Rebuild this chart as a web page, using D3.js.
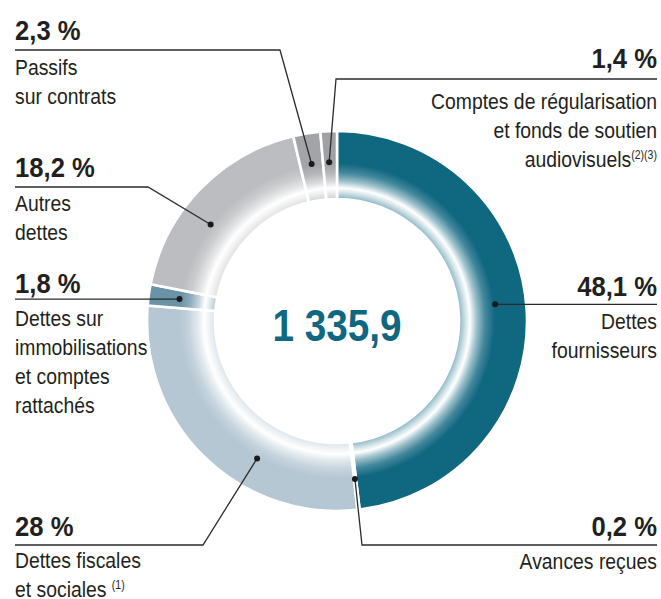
<!DOCTYPE html>
<html>
<head>
<meta charset="utf-8">
<script src="https://cdn.jsdelivr.net/npm/d3@7"></script>
<style>
  html, body { margin: 0; padding: 0; background: #fff; }
  svg { display: block; }
  text { font-family: "Liberation Sans", Arial, "Helvetica Neue", sans-serif; fill: #231f20; }
</style>
</head>
<body>
<svg id="chart" width="661" height="599"></svg>
<script>
// Répartition des dettes (en %), total en millions d'euros
const categories = [
  "Dettes fournisseurs",
  "Avances reçues",
  "Dettes fiscales et sociales",
  "Dettes sur immobilisations et comptes rattachés",
  "Autres dettes",
  "Passifs sur contrats",
  "Comptes de régularisation et fonds de soutien audiovisuels"
];
const shares = [48.1, 0.2, 28, 1.8, 18.2, 2.3, 1.4];
const shareLabels = ["48,1 %", "0,2 %", "28 %", "1,8 %", "18,2 %", "2,3 %", "1,4 %"];
const labelLines = [
  ["Dettes", "fournisseurs"],
  ["Avances reçues"],
  ["Dettes fiscales", "et sociales|(1)"],
  ["Dettes sur", "immobilisations", "et comptes", "rattachés"],
  ["Autres", "dettes"],
  ["Passifs", "sur contrats"],
  ["Comptes de régularisation", "et fonds de soutien", "audiovisuels|(2)(3)"]
];
const totalLabel = "1 335,9";
const colors = ["#0f6780", "#e8eef2", "#b4c7d3", "#6b93a8", "#bcbdc0", "#a2a4a7", "#9fa1a4"];

// Callout layout: dot position inside the slice, elbow of the leader, text block placement
const callouts = [
  { at: 0.485, side: "right", elbow: null,       lineY: 304, top: 296, first: 33 },
  { at: 0.5,   side: "right", elbow: [362, 545], lineY: 545, top: 536, first: 33 },
  { at: 0.36,  side: "left",  elbow: [203, 545], lineY: 545, top: 536, first: 32 },
  { at: 0.5,   side: "left",  elbow: null,       lineY: 300, top: 293, first: 33 },
  { at: 0.40,  side: "left",  elbow: [148, 187], lineY: 187, top: 177, first: 34 },
  { at: 0.5,   side: "left",  elbow: [280, 50],  lineY: 50,  top: 40,  first: 35 },
  { at: 0.44,  side: "right", elbow: [336, 79],  lineY: 79,  top: 68,  first: 41 }
];

const svg = d3.select("#chart");
const cx = 337, cy = 321;
const rOuter = 190, rInner = 122, rDot = 159;
const leftX = 15, rightX = 657;
const narrow = 0.88;      // condensed look for the label text

const data = categories.map((c, i) => ({ name: c, value: shares[i], i }));
const pie = d3.pie().sort(null).value(d => d.value).startAngle(0).endAngle(2 * Math.PI);
const arcs = pie(data);
const arc = d3.arc().innerRadius(rInner).outerRadius(rOuter);

// Radial shading: solid outside, a bright band near the inner edge
const defs = svg.append("defs");
colors.forEach((col, i) => {
  const g = defs.append("radialGradient")
    .attr("id", "shade" + i)
    .attr("gradientUnits", "userSpaceOnUse")
    .attr("cx", 0).attr("cy", 0).attr("r", rOuter);
  const mix = t => d3.interpolateRgb(col, "#ffffff")(t);
  g.append("stop").attr("offset", rInner / rOuter).attr("stop-color", mix(0.5));
  g.append("stop").attr("offset", 0.675).attr("stop-color", mix(0.8));
  g.append("stop").attr("offset", 0.70).attr("stop-color", "#ffffff");
  g.append("stop").attr("offset", 0.735).attr("stop-color", mix(0.6));
  g.append("stop").attr("offset", 0.78).attr("stop-color", mix(0.22));
  g.append("stop").attr("offset", 0.83).attr("stop-color", col);
  g.append("stop").attr("offset", 1).attr("stop-color", col);
});

const ring = svg.append("g").attr("transform", `translate(${cx},${cy})`);
ring.selectAll("path.slice")
  .data(arcs)
  .join("path")
  .attr("class", "slice")
  .attr("d", arc)
  .attr("fill", d => `url(#shade${d.data.i})`)
  .attr("stroke", "#ffffff")
  .attr("stroke-width", 2.6);

// Total in the centre
svg.append("text")
  .attr("transform", `translate(${cx},341) scale(0.86,1)`)
  .attr("text-anchor", "middle")
  .style("font-weight", "bold")
  .style("font-size", "45px")
  .style("fill", "#0f6780")
  .text(totalLabel);

// Callouts
const lead = svg.append("g");
arcs.forEach((a, i) => {
  const co = callouts[i];
  const ang = a.startAngle + (a.endAngle - a.startAngle) * co.at;
  const dx = cx + rDot * Math.sin(ang);
  const dy = cy - rDot * Math.cos(ang);
  const endX = co.side === "left" ? leftX : rightX;
  const pts = [[dx, dy]];
  if (co.elbow) pts.push(co.elbow);
  pts.push([endX, co.elbow ? co.lineY : dy]);

  lead.append("path")
    .attr("d", d3.line()(pts))
    .attr("fill", "none")
    .attr("stroke", "#2b2b2b")
    .attr("stroke-width", 1.3);
  lead.append("circle")
    .attr("cx", dx).attr("cy", dy).attr("r", 3)
    .attr("fill", "#1a1a1a");

  const anchor = co.side === "left" ? "start" : "end";
  svg.append("text")
    .attr("transform", `translate(${endX},${co.top}) scale(0.95,1)`)
    .attr("text-anchor", anchor)
    .style("font-weight", "bold")
    .style("font-size", "27px")
    .text(shareLabels[i]);

  labelLines[i].forEach((ln, k) => {
    const [main, sup] = ln.split("|");
    const t = svg.append("text")
      .attr("transform", `translate(${endX},${co.top + co.first + k * 29}) scale(${narrow},1)`)
      .attr("text-anchor", anchor)
      .style("font-size", "22px");
    t.append("tspan").text(main + (sup && co.side === "left" ? " " : ""));
    if (sup) {
      t.append("tspan")
        .attr("dy", -8)
        .style("font-size", "12px")
        .text(sup);
    }
  });
});
</script>
</body>
</html>
